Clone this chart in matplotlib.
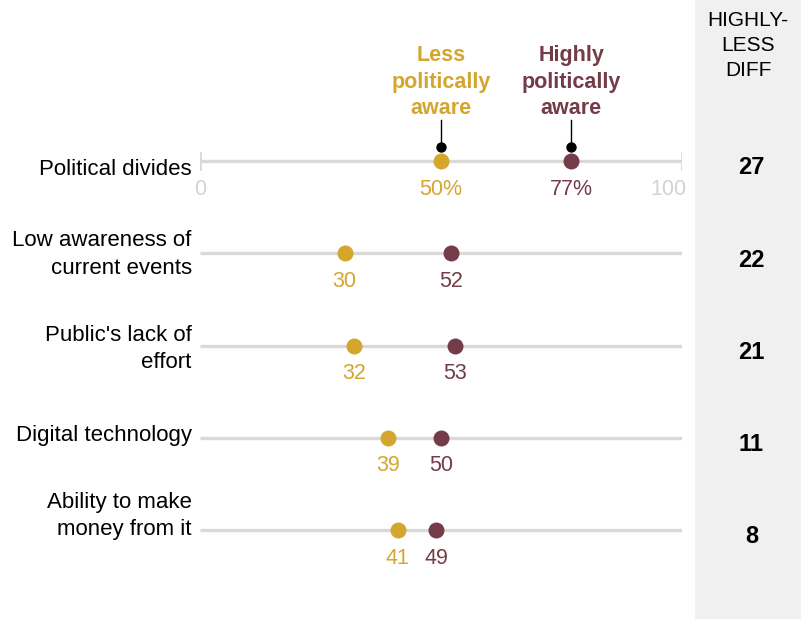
import matplotlib
matplotlib.use("Agg")
import matplotlib.pyplot as plt
from matplotlib.patches import Rectangle

categories = ["Political divides", "Low awareness of\ncurrent events", "Public's lack of\neffort",
              "Digital technology", "Ability to make\nmoney from it"]
less_aware = [50, 30, 32, 39, 41]
highly_aware = [77, 52, 53, 50, 49]
diffs = [27, 22, 21, 11, 8]

# vertical nudge of each category label (points, negative = down)
label_nudge = [-6, -1, -2.5, 1.5, 10]

GOLD = "#D4A62E"
MAROON = "#733C48"
GRID = "#D9D9D9"
FS = 15.5

plt.rcParams['font.family'] = ['Liberation Sans', 'DejaVu Sans']

W, H = 801, 619
fig = plt.figure(figsize=(W / 100, H / 100), dpi=100)

# gray diff panel
fig.patches.append(Rectangle((695 / W, 0), (W - 695) / W, 1, transform=fig.transFigure,
                             facecolor="#F0F0F0", edgecolor="none", zorder=-10))

x0px, x1px = 200, 682
ax = fig.add_axes([x0px / W, 0, (x1px - x0px) / W, 1])
ax.set_zorder(5)
row0, step = 161, 92.25
ax.set_xlim(0, 100)
ax.set_ylim((H - row0) / step, -row0 / step)
ax.axis("off")
ax.patch.set_alpha(0)

for i, (cat, lo, hi, d) in enumerate(zip(categories, less_aware, highly_aware, diffs)):
    ax.plot([0, 100], [i, i], color=GRID, lw=2.4, solid_capstyle="butt", zorder=1)
    ax.plot(lo, i, "o", color=GOLD, ms=11.5, mec="none", zorder=3)
    ax.plot(hi, i, "o", color=MAROON, ms=11.5, mec="none", zorder=3)
    suffix = "%" if i == 0 else ""
    ax.text(lo, i + 0.19, f"{lo}{suffix}", color=GOLD, fontsize=FS, ha="center", va="top")
    ax.text(hi, i + 0.19, f"{hi}{suffix}", color=MAROON, fontsize=FS, ha="center", va="top")
    ax.annotate(cat, xy=(0, i), xycoords="data", xytext=(-6, label_nudge[i]),
                textcoords="offset points", ha="right", va="center", fontsize=16,
                color="black", linespacing=1.4)
    ax.annotate(str(d), xy=(1, i), xycoords=("axes fraction", "data"), xytext=(50, -5),
                textcoords="offset points", ha="center", va="center", fontsize=17,
                fontweight="bold", color="black", annotation_clip=False)

# end ticks and axis labels on first row
for xv in (0, 100):
    ax.plot([xv, xv], [-0.09, 0.09], color=GRID, lw=2, zorder=1)
ax.text(0, 0.2, "0", color="#D3D3D3", fontsize=FS, ha="center", va="top")
ax.annotate("100", xy=(100, 0.2), xycoords="data", xytext=(3, 0), textcoords="offset points",
            color="#D3D3D3", fontsize=FS, ha="right", va="top")

# series headers with leader lines
for val, label, col in ((less_aware[0], "Less\npolitically\naware", GOLD),
                        (highly_aware[0], "Highly\npolitically\naware", MAROON)):
    ax.plot([val, val], [-0.14, -0.44], color="black", lw=1, zorder=2)
    ax.plot(val, -0.155, "o", color="black", ms=7.5, mec="none", zorder=2)
    ax.text(val, -0.45, label, color=col, fontsize=FS, fontweight="bold",
            ha="center", va="bottom", linespacing=1.36)

fig.text(748 / W, 1 - 11 / H, "HIGHLY-\nLESS\nDIFF", ha="center", va="top", fontsize=15,
         color="black", linespacing=1.4)

fig.savefig("out.png", dpi=100)
